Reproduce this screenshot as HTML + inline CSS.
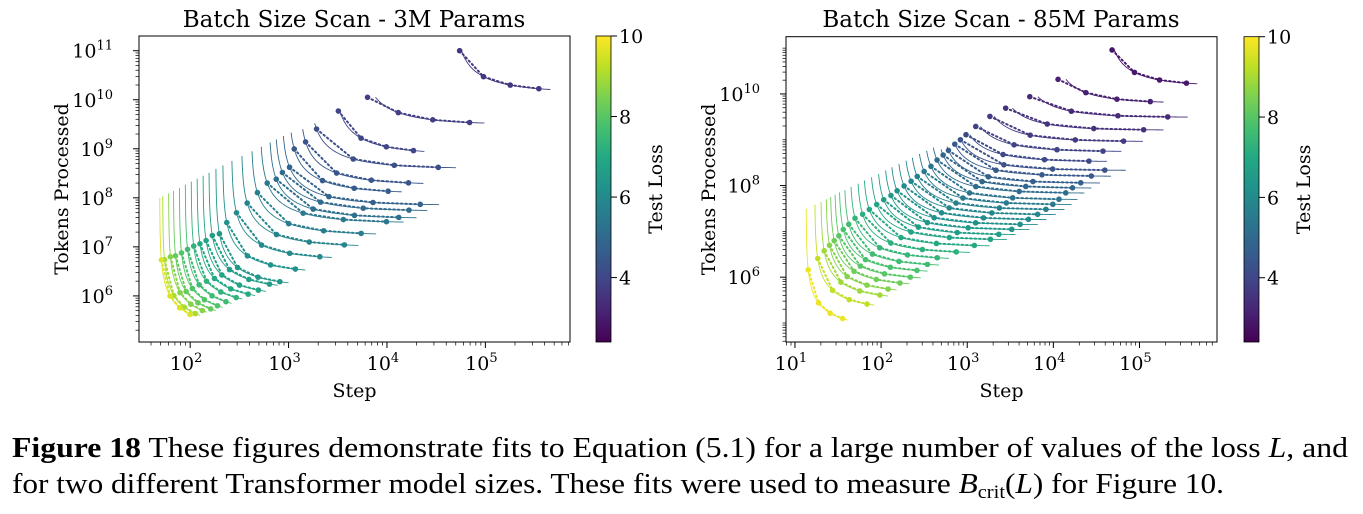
<!DOCTYPE html>
<html><head><meta charset="utf-8"><style>
html,body{margin:0;padding:0;background:#fff;}
svg{display:block;}
text{font-family:"DejaVu Serif","Liberation Serif",serif;fill:#000;}
.cap{font-family:"Liberation Serif",serif;font-size:29px;}
</style></head><body>
<svg id="fig" width="1363" height="514" viewBox="0 0 1363 514" xmlns="http://www.w3.org/2000/svg">
<defs>
<linearGradient id="vir" x1="0" y1="1" x2="0" y2="0">
<stop offset="0" stop-color="#440154"/><stop offset="0.1" stop-color="#482475"/><stop offset="0.2" stop-color="#414487"/><stop offset="0.3" stop-color="#355f8d"/><stop offset="0.4" stop-color="#2a788e"/><stop offset="0.5" stop-color="#21918c"/><stop offset="0.6" stop-color="#22a884"/><stop offset="0.7" stop-color="#44bf70"/><stop offset="0.8" stop-color="#7ad151"/><stop offset="0.9" stop-color="#bddf26"/><stop offset="1" stop-color="#fde725"/>
</linearGradient>
</defs>
<g id="p1"></g>
<g id="p2"></g>
<text class="cap" x="12" y="457" textLength="1336" lengthAdjust="spacingAndGlyphs"><tspan font-weight="bold">Figure 18</tspan>    These figures demonstrate fits to Equation (5.1) for a large number of values of the loss <tspan font-style="italic">L</tspan>, and</text>
<text class="cap" x="12" y="493" textLength="1212" lengthAdjust="spacingAndGlyphs">for two different Transformer model sizes. These fits were used to measure <tspan font-style="italic">B</tspan><tspan font-size="19" dy="5">crit</tspan><tspan dy="-5">(</tspan><tspan font-style="italic">L</tspan>) for Figure 10.</text>
</svg>
<script>
// ---- Panel 1 (3M params) data: log10 values ----
const p1LogSmin=[4.69,3.74,3.46,3.21,3.11,3.00,2.93,2.86,2.80,2.71,2.62,2.52,2.42,2.33,2.26,2.19,2.13,2.07,2.01,1.95,1.89,1.83,1.78,1.72,1.69];
const p1LogEmin=[10.16,9.50,8.89,8.60,8.27,8.09,7.85,7.73,7.58,7.49,7.24,7.00,6.74,6.46,6.18,6.12,5.98,5.88,5.78,5.67,5.57,5.50,5.44,5.37,5.33];
const p1LogSend=[5.66,4.99,4.38,4.70,4.37,4.15,4.53,4.41,4.30,4.17,3.89,3.71,3.44,3.17,3.00,2.89,2.77,2.66,2.53,2.42,2.33,2.26,2.17,2.10,2.04];
const p1LogEtop=[11.0,10.05,9.77,9.52,9.40,9.33,9.26,9.19,9.13,9.04,8.95,8.85,8.75,8.66,8.59,8.51,8.45,8.39,8.33,8.27,8.20,8.14,8.09,8.03,8.00];
const p1Loss=[3.6,3.8,4.0,4.2,4.4,4.6,4.8,5.0,5.2,5.4,5.6,5.8,6.0,6.2,6.4,6.6,6.8,7.0,7.3,7.6,7.9,8.2,8.6,9.0,9.6];
const p1XTicks=[2,3,4,5];
const p1YTicks=[6,7,8,9,10,11];
// ---- Panel 2 (85M params) data ----
const p2LogSmin=[4.63,3.99,3.63,3.35,3.17,3.01,2.90,2.82,2.76,2.69,2.63,2.56,2.49,2.41,2.33,2.26,2.18,2.10,2.03,1.95,1.87,1.79,1.72,1.64,1.57,1.51,1.46,1.41,1.36,1.30,1.23,1.13];
const p2LogEmin=[10.18,9.80,9.49,9.21,8.96,8.74,8.52,8.33,8.20,8.05,7.94,7.83,7.69,7.58,7.47,7.36,7.25,7.14,7.03,6.92,6.81,6.67,6.52,6.38,6.23,6.09,5.94,5.80,5.65,5.51,5.29,4.89];
const p2LogSend=[5.67,5.28,5.56,5.28,5.04,4.79,4.62,4.84,4.67,4.54,4.44,4.36,4.28,4.21,4.13,4.03,3.92,3.82,3.72,3.56,3.46,3.26,3.03,2.79,2.67,2.54,2.46,2.33,2.18,2.08,1.92,1.61];
const p2LogEtop=[10.96,10.32,9.94,9.69,9.51,9.29,9.11,9.00,8.92,8.85,8.79,8.83,8.76,8.69,8.61,8.54,8.47,8.40,8.33,8.25,8.18,8.11,8.04,7.97,7.90,7.85,7.80,7.75,7.70,7.64,7.58,7.49];
const p2Loss=[2.9,3.1,3.3,3.5,3.7,3.9,4.1,4.3,4.5,4.7,4.9,5.1,5.3,5.5,5.7,5.9,6.0,6.2,6.4,6.6,6.8,7.0,7.2,7.4,7.6,7.8,8.0,8.3,8.6,8.9,9.3,9.8];
const p2XTicks=[1,2,3,4,5];
const p2YTicks=[6,8,10];
// dots placed at fractions of each curve's log-step span
const dotFrac=[0.05,0.3,0.58,0.88];

const NS='http://www.w3.org/2000/svg';
const VIR=['#440154','#482475','#414487','#355f8d','#2a788e','#21918c','#22a884','#44bf70','#7ad151','#bddf26','#fde725'];
function hex(c){return [parseInt(c.substr(1,2),16),parseInt(c.substr(3,2),16),parseInt(c.substr(5,2),16)];}
function viridis(t){t=Math.max(0,Math.min(1,t));const f=t*10,i=Math.min(9,Math.floor(f)),u=f-i;const a=hex(VIR[i]),b=hex(VIR[i+1]);return 'rgb('+a.map((v,k)=>Math.round(v+(b[k]-v)*u)).join(',')+')';}
function mk(tag,attrs,parent){const e=document.createElementNS(NS,tag);for(const k in attrs)e.setAttribute(k,attrs[k]);parent.appendChild(e);return e;}
function sup(parent,x,y,exp,anchor,name){
  const t=mk('text',{x:x,y:y,'font-size':19,'text-anchor':anchor},parent);
  
  
  t.appendChild(document.createTextNode('10'));
  const s=mk('tspan',{dy:-8,'font-size':13},t);s.textContent=exp;return t;
}

function panel(g,cfg){
  const {L,R,T,B,xmin,xmax,ymin,ymax,smin,emin,send,etop,loss,xt,yt,title,tcx,cbx,ylabx,cblabx,lmin,lmax}=cfg;
  const X=v=>L+(v-xmin)/(xmax-xmin)*(R-L);
  const Y=v=>B-(v-ymin)/(ymax-ymin)*(B-T);
  const cg=mk('g',{},g);
  
  
  for(let i=0;i<smin.length;i++){
    const col=viridis((loss[i]-lmin)/(lmax-lmin));
    const Sm=smin[i],Em=emin[i];
    const r0=1/(Math.pow(10,etop[i]-Em)-1);
    let d='';
    const ls0=Sm+Math.log10(1+r0);
    const N=80;
    for(let k=0;k<=N;k++){
      const ls=ls0+(send[i]-ls0)*Math.pow(k/N,1.6);
      const s=Math.pow(10,ls-Sm);
      const le=Em+Math.log10(1+1/(s-1));
      d+=(k?'L':'M')+X(ls).toFixed(2)+','+Y(le).toFixed(2);
    }
    const fit=mk('path',{d:d,fill:'none',stroke:col,'stroke-width':0.9},cg);
    
    
    let dd='';const pts=[];
    dotFrac.forEach((f,k)=>{
      const ls=Sm+f*(send[i]-Sm);
      const s=Math.pow(10,ls-Sm);
      const le=Math.min(etop[i],Em+Math.log10(1+1/(s-1)));
      pts.push([X(ls),Y(le)]);
    });
    pts.forEach((p,k)=>{dd+=(k?'L':'M')+p[0].toFixed(2)+','+p[1].toFixed(2);});
    const dl=mk('path',{d:dd,fill:'none',stroke:col,'stroke-width':2,'stroke-dasharray':'1.5,3','stroke-linecap':'round'},cg);
    
    
    pts.forEach(p=>{
      const c=mk('circle',{cx:p[0],cy:p[1],r:2.8,fill:col},cg);
      
      
    });
  }
  const fr=mk('rect',{x:L,y:T,width:R-L,height:B-T,fill:'none',stroke:'#000','stroke-width':1},g);
  
  
  for(let dgt=Math.floor(xmin);dgt<=Math.ceil(xmax);dgt++){
    for(let m=1;m<10;m++){
      const v=dgt+Math.log10(m);if(v<xmin||v>xmax)continue;
      const x=X(v);mk('line',{x1:x,x2:x,y1:B,y2:B+(m==1?6:3.5),stroke:'#000','stroke-width':m==1?1:0.7},g);
    }
  }
  xt.forEach(v=>sup(g,X(v)-4,B+28,String(v),'middle','x-tick-label'));
  for(let dgt=Math.floor(ymin);dgt<=Math.ceil(ymax);dgt++){
    for(let m=1;m<10;m++){
      const v=dgt+Math.log10(m);if(v<ymin||v>ymax)continue;
      const y=Y(v);const major=m==1&&yt.indexOf(dgt)>=0;
      mk('line',{x1:L,x2:L-(major?6:3.5),y1:y,y2:y,stroke:'#000','stroke-width':major?1:0.7},g);
    }
  }
  yt.forEach(v=>sup(g,L-26,Y(v)+7,String(v),'end','y-tick-label'));
  const tt=mk('text',{x:tcx,y:27,'font-size':23,'text-anchor':'middle'},g);tt.textContent=title;
  
  
  const xl=mk('text',{x:(L+R)/2,y:397,'font-size':19,'text-anchor':'middle'},g);xl.textContent='Step';
  
  
  const yl=mk('text',{x:0,y:0,'font-size':19,'text-anchor':'middle',transform:'translate('+ylabx+','+((T+B)/2)+') rotate(-90)'},g);yl.textContent='Tokens Processed';
  
  
  const cb=mk('rect',{x:cbx,y:T,width:15,height:B-T,fill:'url(#vir)',stroke:'#000','stroke-width':0.8},g);
  
  
  const CY=v=>B-(v-lmin)/(lmax-lmin)*(B-T);
  [4,6,8,10].forEach(v=>{
    mk('line',{x1:cbx+15,x2:cbx+21,y1:CY(v),y2:CY(v),stroke:'#000'},g);
    const t=mk('text',{x:cbx+23,y:CY(v)+7,'font-size':19},g);t.textContent=String(v);
    
    
  });
  const cl=mk('text',{x:0,y:0,'font-size':19,'text-anchor':'middle',transform:'translate('+cblabx+','+((T+B)/2)+') rotate(-90)'},g);cl.textContent='Test Loss';
  
  
}
panel(document.getElementById('p1'),{L:139,R:570,T:36,B:342,xmin:1.48,xmax:5.86,ymin:5.06,ymax:11.30,
  smin:p1LogSmin,emin:p1LogEmin,send:p1LogSend,etop:p1LogEtop,loss:p1Loss,xt:p1XTicks,yt:p1YTicks,
  title:'Batch Size Scan - 3M Params',tcx:354,cbx:596,ylabx:68,cblabx:662,lmin:2.4,lmax:10});
panel(document.getElementById('p2'),{L:786,R:1217,T:36.7,B:342,xmin:0.896,xmax:5.90,ymin:4.585,ymax:11.25,
  smin:p2LogSmin,emin:p2LogEmin,send:p2LogSend,etop:p2LogEtop,loss:p2Loss,xt:p2XTicks,yt:p2YTicks,
  title:'Batch Size Scan - 85M Params',tcx:1001,cbx:1244,ylabx:715,cblabx:1310,lmin:2.4,lmax:10});
</script>
</body></html>
